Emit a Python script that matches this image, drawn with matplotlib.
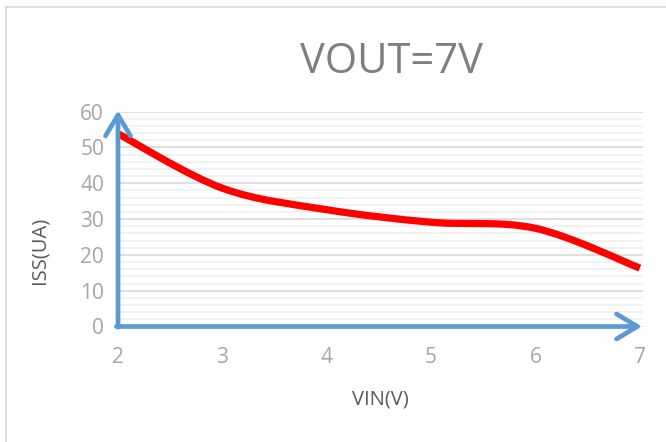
import matplotlib
matplotlib.use("Agg")
import matplotlib.pyplot as plt
from matplotlib.path import Path
from matplotlib.patches import PathPatch
from matplotlib.lines import Line2D
from matplotlib.ticker import MultipleLocator

# ---- data ----
vin = [2, 3, 4, 5, 6, 7]
iss = [53.8, 38.6, 32.6, 29.1, 27.4, 16.3]
x_ticks = [2, 3, 4, 5, 6, 7]
y_ticks = [0, 10, 20, 30, 40, 50, 60]
title = "VOUT=7V"
xlabel = "VIN(V)"
ylabel = "ISS(UA)"

W, H = 666, 442
fig = plt.figure(figsize=(W / 100, H / 100), dpi=100)
plt.rcParams['font.family'] = ['Open Sans', 'DejaVu Sans']

def fx(px):
    return px / W

def fy(py):
    return 1 - py / H

left, right, top, bottom = 118, 643, 111.5, 326.5
ax = fig.add_axes([fx(left), fy(bottom), fx(right) - fx(left), fy(top) - fy(bottom)])
ax.set_xlim(2, 7.03)
ax.set_ylim(0, 60)
for s in ax.spines.values():
    s.set_visible(False)

ax.set_xticks(x_ticks)
ax.set_yticks(y_ticks)
ax.yaxis.set_minor_locator(MultipleLocator(2))
ax.tick_params(axis='both', which='both', length=0)
ax.tick_params(axis='y', which='major', pad=10, labelsize=15, labelcolor='#a6a6a6')
ax.tick_params(axis='x', which='major', pad=15, labelsize=15, labelcolor='#a6a6a6')
ax.grid(axis='y', which='major', color='#d9d9d9', lw=1.2)
ax.grid(axis='y', which='minor', color='#f0f0f0', lw=1.2)
ax.grid(axis='x', which='both', visible=False)
ax.set_axisbelow(True)

# smooth curve (Catmull-Rom as cubic Bezier segments)
pts = list(zip(vin, iss))
n = len(pts)
verts = [pts[0]]
codes = [Path.MOVETO]
for i in range(n - 1):
    p0 = pts[i - 1] if i > 0 else pts[i]
    p1 = pts[i]
    p2 = pts[i + 1]
    p3 = pts[i + 2] if i + 2 < n else pts[i + 1]
    c1 = (p1[0] + (p2[0] - p0[0]) / 6, p1[1] + (p2[1] - p0[1]) / 6)
    c2 = (p2[0] - (p3[0] - p1[0]) / 6, p2[1] - (p3[1] - p1[1]) / 6)
    verts += [c1, c2, p2]
    codes += [Path.CURVE4] * 3
patch = PathPatch(Path(verts, codes), facecolor='none', edgecolor='#ff0000',
                  lw=5.2, capstyle='butt', joinstyle='round', zorder=3)
ax.add_patch(patch)

# axis arrows
arrow_kw = dict(arrowstyle='->,head_length=0.75,head_width=0.45', color='#5b9bd5',
                lw=3.4, mutation_scale=20, capstyle='round', joinstyle='round',
                shrinkA=0, shrinkB=0)
ax.annotate('', xy=(2, 60.3), xytext=(2, -0.2), arrowprops=arrow_kw,
            annotation_clip=False, zorder=4)
ax.annotate('', xy=(7.02, 0), xytext=(1.985, 0), arrowprops=arrow_kw,
            annotation_clip=False, zorder=4)

# texts
fig.text(fx(392), fy(62), title, ha='center', va='center', fontsize=30, color='#7f7f7f')
fig.text(fx(380), fy(399), xlabel, ha='center', va='center', fontsize=14.5, color='#595959')
fig.text(fx(39), fy(250), ylabel, ha='center', va='center', fontsize=14.5, color='#595959',
         rotation=90)

# outer border (left and top)
fig.add_artist(Line2D([fx(6), fx(6)], [0, fy(7)], color='#d9d9d9', lw=1.2))
fig.add_artist(Line2D([fx(6), 1], [fy(7), fy(7)], color='#d9d9d9', lw=1.2))

fig.savefig('out.png', dpi=100)
